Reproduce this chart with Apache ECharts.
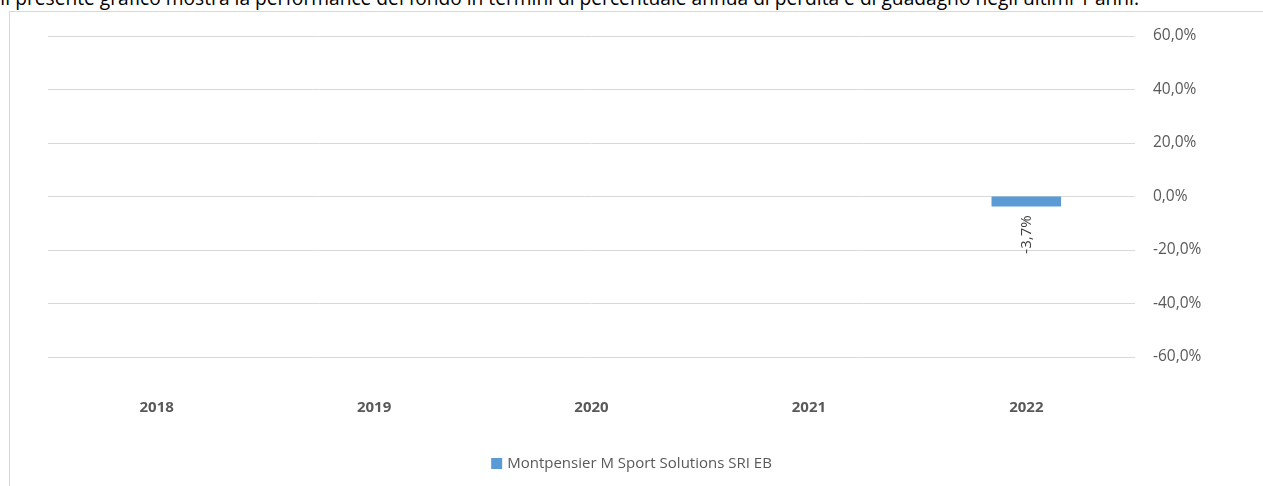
<!DOCTYPE html>
<html>
<head>
<meta charset="utf-8">
<script src="https://cdn.jsdelivr.net/npm/echarts@6/dist/echarts.min.js"></script>
<style>
  html, body { margin: 0; padding: 0; background: #fff; overflow: hidden; }
  #intro { position: absolute; left: 0; top: -12px; line-height: 20px; font-family: "Open Sans", sans-serif; font-size: 19.2px; color: #000; white-space: nowrap; }
  #frame { position: absolute; left: 9px; top: 11px; width: 1300px; height: 500px; border: 1px solid #d9d9d9; box-sizing: border-box; }
  #chart { position: absolute; left: 0; top: 0; width: 1263px; height: 486px; }
</style>
</head>
<body>
<div id="intro">Il presente grafico mostra la performance del fondo in termini di percentuale annua di perdita e di guadagno negli ultimi 1 anni.</div>
<div id="frame"></div>
<div id="chart"></div>
<script>
const categories = ['2018', '2019', '2020', '2021', '2022'];
const seriesName = 'Montpensier M Sport Solutions SRI EB';
const values = [null, null, null, null, -3.7];
const yTicks = { min: -60, max: 60, interval: 20 };

const fmt = v => v.toFixed(1).replace('.', ',') + '%';
const FONT = '"Open Sans", sans-serif';

const chart = echarts.init(document.getElementById('chart'), null, { renderer: 'canvas' });
chart.setOption({
  animation: false,
  textStyle: { fontFamily: FONT },
  grid: { left: 48, right: 128, top: 36, bottom: 129, containLabel: false },
  legend: {
    data: [seriesName],
    top: 451,
    left: 'center',
    itemWidth: 11,
    itemHeight: 11,
    icon: 'rect',
    itemGap: 5,
    textStyle: { color: '#595959', fontSize: 15, fontFamily: FONT }
  },
  xAxis: {
    type: 'category',
    data: categories,
    position: 'bottom',
    axisLine: { show: false, onZero: false },
    axisTick: { show: false },
    axisLabel: { color: '#595959', fontSize: 15, fontWeight: 'bold', margin: 43, fontFamily: FONT },
    splitLine: { show: false }
  },
  yAxis: {
    type: 'value',
    position: 'right',
    min: yTicks.min,
    max: yTicks.max,
    interval: yTicks.interval,
    axisLine: { show: false },
    axisTick: { show: false },
    axisLabel: { color: '#595959', fontSize: 15.5, margin: 18, formatter: fmt, fontFamily: FONT },
    splitLine: { lineStyle: { color: '#d9d9d9', width: 1 } }
  },
  series: [{
    name: seriesName,
    type: 'bar',
    data: values,
    barWidth: '32%',
    itemStyle: { color: '#5B9BD5' },
    label: {
      show: true,
      position: 'bottom',
      rotate: 90,
      align: 'right',
      verticalAlign: 'middle',
      distance: 9,
      color: '#404040',
      fontSize: 15,
      fontFamily: FONT,
      formatter: p => fmt(p.value)
    }
  }]
});
</script>
</body>
</html>
